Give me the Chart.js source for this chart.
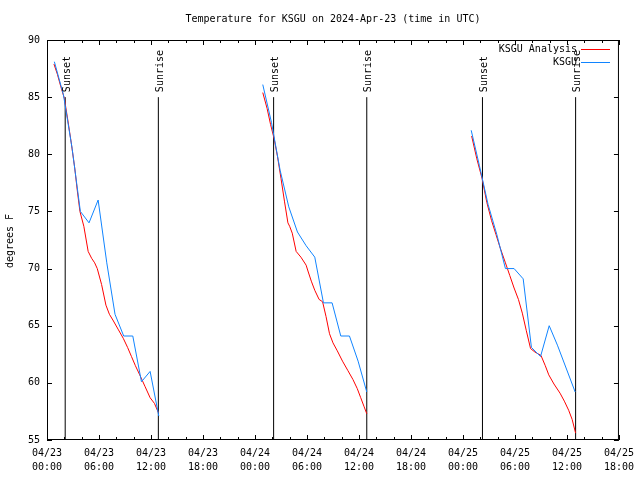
<!DOCTYPE html>
<html>
<head>
<meta charset="utf-8">
<title>Temperature for KSGU</title>
<script src="https://cdn.jsdelivr.net/npm/chart.js@4.4.1/dist/chart.umd.min.js"></script>
<style>
    html, body { margin: 0; padding: 0; background: #fff; }
    #wrap { width: 640px; height: 480px; }
</style>
</head>
<body>
<div id="wrap"><canvas id="tempChart" width="640" height="480"></canvas></div>
<script>
// Hours after 2024-04-23 00:00 UTC
const obsHours1 = [0.85, 1.9, 2.9, 3.85, 4.85, 5.9, 6.9, 7.85, 8.85, 9.9, 10.9, 11.9, 12.9];
const obsTemps1 = [88.1, 85.2, 80.5, 75.0, 74.0, 76.0, 70.5, 66.0, 64.1, 64.1, 60.1, 61.0, 57.1];
const obsHours2 = [24.9, 25.9, 26.9, 27.9, 28.9, 29.9, 30.9, 31.9, 32.9, 33.9, 34.9, 35.9, 36.9];
const obsTemps2 = [86.1, 82.8, 78.6, 75.4, 73.2, 72.0, 71.0, 67.0, 67.0, 64.1, 64.1, 61.9, 59.2];
const obsHours3 = [48.95, 49.9, 50.9, 51.9, 52.9, 53.9, 54.95, 55.9, 56.95, 57.95, 58.9, 59.9, 60.95];
const obsTemps3 = [82.1, 79.0, 75.6, 73.0, 70.0, 70.0, 69.1, 63.1, 62.3, 65.0, 63.3, 61.3, 59.2];

const anaHours1 = [0.8, 1.2, 1.6, 2.0, 2.4, 2.8, 3.2, 3.5, 3.8, 4.25, 4.75, 5.15, 5.5, 5.8, 6.3, 6.8, 7.2, 7.6, 8.2, 8.8, 9.3, 9.75, 10.2, 10.7, 11.3, 11.9, 12.4, 12.85];
const anaTemps1 = [87.9, 87.0, 85.9, 84.9, 83.0, 81.0, 78.8, 76.8, 75.0, 73.7, 71.5, 70.9, 70.5, 70.0, 68.6, 66.8, 66.0, 65.5, 64.7, 63.9, 63.1, 62.3, 61.5, 60.7, 59.7, 58.7, 58.2, 57.4];
const anaHours2 = [24.9, 25.4, 25.8, 26.2, 26.6, 27.0, 27.4, 27.8, 28.0, 28.3, 28.75, 29.3, 29.9, 30.15, 30.5, 30.9, 31.4, 31.8, 32.2, 32.6, 33.0, 33.5, 34.1, 34.7, 35.3, 35.8, 36.2, 36.6, 36.9];
const anaTemps2 = [85.4, 84.0, 82.6, 81.4, 79.8, 77.9, 75.9, 74.0, 73.7, 73.1, 71.5, 71.0, 70.3, 69.7, 68.9, 68.1, 67.3, 67.1, 65.8, 64.3, 63.5, 62.8, 61.9, 61.1, 60.3, 59.5, 58.7, 57.9, 57.3];
const anaHours3 = [49.0, 49.6, 50.2, 50.75, 51.3, 51.8, 52.3, 52.9, 53.4, 53.9, 54.4, 54.85, 55.3, 55.8, 56.3, 57.0, 57.5, 57.9, 58.5, 59.2, 59.7, 60.2, 60.6, 61.0];
const anaTemps3 = [81.6, 79.6, 77.9, 75.8, 74.2, 73.0, 71.8, 70.5, 69.4, 68.3, 67.3, 66.1, 64.6, 63.0, 62.7, 62.4, 61.5, 60.7, 59.9, 59.1, 58.4, 57.6, 56.8, 55.6];

const sunsetHours = [2.1, 26.15, 50.25];
const sunriseHours = [12.85, 36.9, 61.0];
const sunLineTemps = [55, 85];

// join day segments, with a null point between so the line breaks
function joinDays(hourLists, tempLists) {
    const pts = [];
    hourLists.forEach((hours, d) => {
        if (d > 0) pts.push({ x: hours[0] - 0.5, y: null });
        hours.forEach((h, i) => pts.push({ x: h, y: tempLists[d][i] }));
    });
    return pts;
}

const sunPoints = [];
sunsetHours.concat(sunriseHours).forEach(h => {
    sunPoints.push({ x: h, y: sunLineTemps[0] });
    sunPoints.push({ x: h, y: sunLineTemps[1] });
    sunPoints.push({ x: h, y: null });
});

const FONT = '10px "DejaVu Sans Mono", monospace';

const framePlugin = {
    id: 'frame',
    afterDatasetsDraw(chart) {
        const { ctx, chartArea: a, scales } = chart;
        const xs = scales.x, ys = scales.y;
        ctx.save();
        ctx.strokeStyle = '#000';
        ctx.lineWidth = 1;

        // border
        ctx.strokeRect(a.left + 0.5, a.top + 0.5, a.right - a.left - 1, a.bottom - a.top - 1);

        // inward ticks
        ctx.beginPath();
        for (let h = 0; h <= 66; h += 2) {
            const px = Math.round(xs.getPixelForValue(h)) + 0.5;
            const len = h % 6 === 0 ? 5 : 3;
            ctx.moveTo(px, a.bottom); ctx.lineTo(px, a.bottom - len);
            ctx.moveTo(px, a.top); ctx.lineTo(px, a.top + len);
        }
        for (let t = 55; t <= 90; t += 5) {
            const py = Math.round(ys.getPixelForValue(t)) + 0.5;
            ctx.moveTo(a.left, py); ctx.lineTo(a.left + 5, py);
            ctx.moveTo(a.right, py); ctx.lineTo(a.right - 5, py);
        }
        ctx.stroke();

        ctx.fillStyle = '#000';
        ctx.font = FONT;

        // sunset / sunrise labels
        const labelAt = (h, text) => {
            ctx.save();
            ctx.translate(xs.getPixelForValue(h), ys.getPixelForValue(sunLineTemps[1]) - 5);
            ctx.rotate(-Math.PI / 2);
            ctx.textAlign = 'left';
            ctx.textBaseline = 'middle';
            ctx.fillText(text, 0, 2);
            ctx.restore();
        };
        sunsetHours.forEach(h => labelAt(h, 'Sunset'));
        sunriseHours.forEach(h => labelAt(h, 'Sunrise'));

        // legend
        const legendRows = [chart.data.datasets[1], chart.data.datasets[0]];
        legendRows.forEach((ds, i) => {
            const ly = 49 + i * 13;
            ctx.textAlign = 'right';
            ctx.textBaseline = 'middle';
            ctx.fillText(ds.label, 577, ly);
            ctx.strokeStyle = ds.borderColor;
            ctx.beginPath();
            ctx.moveTo(581, ly + 0.5);
            ctx.lineTo(610, ly + 0.5);
            ctx.stroke();
        });

        // title and y axis title
        ctx.textAlign = 'center';
        ctx.textBaseline = 'middle';
        ctx.fillText('Temperature for KSGU on 2024-Apr-23 (time in UTC)', (a.left + a.right) / 2, 19);
        ctx.save();
        ctx.translate(10, 241);
        ctx.rotate(-Math.PI / 2);
        ctx.fillText('degrees F', 0, 0);
        ctx.restore();

        ctx.restore();
    }
};

const ctx = document.getElementById('tempChart').getContext('2d');
const tempChart = new Chart(ctx, {
    type: 'line',
    data: {
        datasets: [
            {
                label: 'KSGU',
                data: joinDays([obsHours1, obsHours2, obsHours3], [obsTemps1, obsTemps2, obsTemps3]),
                borderColor: '#1084ff',
                borderWidth: 1,
                pointRadius: 0,
                tension: 0,
                spanGaps: false,
                order: 0
            },
            {
                label: 'KSGU Analysis',
                data: joinDays([anaHours1, anaHours2, anaHours3], [anaTemps1, anaTemps2, anaTemps3]),
                borderColor: '#ff0000',
                borderWidth: 1,
                pointRadius: 0,
                tension: 0,
                spanGaps: false,
                order: 1
            },
            {
                label: 'sun',
                data: sunPoints,
                borderColor: '#000000',
                borderWidth: 1,
                pointRadius: 0,
                spanGaps: false,
                order: 2
            }
        ]
    },
    options: {
        responsive: false,
        animation: false,
        devicePixelRatio: 1,
        layout: { padding: { top: 40, right: 20, left: 0, bottom: 0 } },
        plugins: {
            legend: { display: false },
            title: { display: false },
            tooltip: { enabled: false }
        },
        scales: {
            x: {
                type: 'linear',
                min: 0,
                max: 66,
                grid: { display: false, drawTicks: false },
                border: { display: false },
                afterFit: s => { s.height = 40; },
                ticks: {
                    stepSize: 6,
                    autoSkip: false,
                    maxRotation: 0,
                    padding: 6,
                    color: '#000',
                    font: { family: '"DejaVu Sans Mono", monospace', size: 10, lineHeight: 1.4 },
                    callback: function(value) {
                        const day = 23 + Math.floor(value / 24);
                        const hour = value % 24;
                        return ['04/' + day, String(hour).padStart(2, '0') + ':00'];
                    }
                }
            },
            y: {
                min: 55,
                max: 90,
                grid: { display: false, drawTicks: false },
                border: { display: false },
                afterFit: s => { s.width = 47; },
                ticks: {
                    stepSize: 5,
                    padding: 7,
                    color: '#000',
                    font: { family: '"DejaVu Sans Mono", monospace', size: 10 }
                }
            }
        }
    },
    plugins: [framePlugin]
});
</script>
</body>
</html>
